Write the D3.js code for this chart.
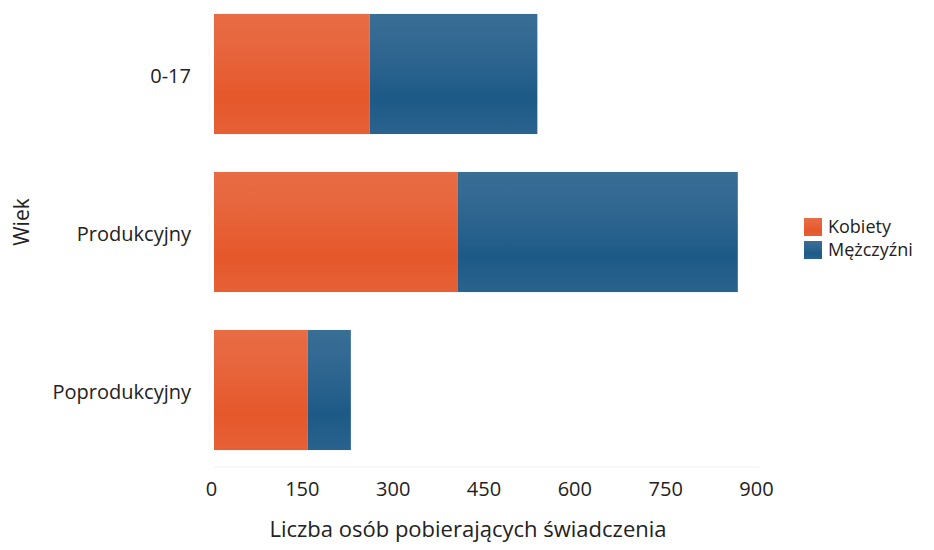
<!DOCTYPE html>
<html><head><meta charset="utf-8">
<script src="https://cdn.jsdelivr.net/npm/d3@7"></script>
<style>body{margin:0;background:#fff;font-family:"Open Sans","Noto Sans",sans-serif;}</style>
</head><body>
<svg id="c" width="934" height="550"></svg>
<script>
const categories = ["0-17", "Produkcyjny", "Poprodukcyjny"];
const seriesNames = ["Kobiety", "Mężczyźni"];
const kobiety = [257, 402, 155];
const mezczyzni = [277, 463, 71];
const ticks = [0, 150, 300, 450, 600, 750, 900];
const colors = ["#e5582b", "#1e5a87"];

const svg = d3.select("#c");
const x = d3.scaleLinear().domain([0, 900]).range([214, 759]);
const y = d3.scaleBand().domain(categories).range([-5, 469]).paddingInner(0.24).paddingOuter(0.12);

const defs = svg.append("defs");
colors.forEach((c, i) => {
  const g = defs.append("linearGradient").attr("id", "g" + i).attr("x1", 0).attr("y1", 0).attr("x2", 0).attr("y2", 1);
  g.append("stop").attr("offset", "0%").attr("stop-color", d3.interpolateRgb(c, "#ffffff")(0.12));
  g.append("stop").attr("offset", "30%").attr("stop-color", d3.interpolateRgb(c, "#ffffff")(0.08));
  g.append("stop").attr("offset", "70%").attr("stop-color", c);
  g.append("stop").attr("offset", "100%").attr("stop-color", d3.interpolateRgb(c, "#ffffff")(0.05));
});

const data = categories.map((c, i) => ({cat: c, Kobiety: kobiety[i], "Mężczyźni": mezczyzni[i]}));
const stack = d3.stack().keys(seriesNames)(data);

svg.append("g").selectAll("g").data(stack).join("g")
  .attr("fill", (d, i) => `url(#g${i})`)
  .selectAll("rect").data(d => d).join("rect")
  .attr("x", d => x(d[0]))
  .attr("width", d => x(d[1]) - x(d[0]))
  .attr("y", d => y(d.data.cat))
  .attr("height", y.bandwidth());

// faint baseline
svg.append("line").attr("x1", x(0)).attr("x2", x(900)).attr("y1", 467).attr("y2", 467)
  .attr("stroke", "#f0f0f0").attr("stroke-width", 1);

// x axis labels
const xa = svg.append("g").attr("transform", "translate(-3,484)")
  .call(d3.axisBottom(x).tickValues(ticks).tickSize(0).tickPadding(0));
xa.select(".domain").remove();
xa.selectAll("text").attr("font-family", "Open Sans").attr("font-size", 20).attr("fill", "#222").attr("dy", "0.6em");

// y axis labels
const ya = svg.append("g").attr("transform", "translate(191,3)")
  .call(d3.axisLeft(y).tickSize(0).tickPadding(0));
ya.select(".domain").remove();
ya.selectAll("text").attr("font-family", "Open Sans").attr("font-size", 20).attr("fill", "#222");

// titles
svg.append("text").attr("x", 468).attr("y", 537).attr("text-anchor", "middle")
  .attr("font-size", 22).attr("fill", "#222").text("Liczba osób pobierających świadczenia");
svg.append("text").attr("transform", "translate(29,222) rotate(-90)").attr("text-anchor", "middle")
  .attr("font-size", 21).attr("fill", "#222").text("Wiek");

// legend
const lg = svg.append("g").attr("transform", "translate(804,218)");
seriesNames.forEach((s, i) => {
  lg.append("rect").attr("x", 0).attr("y", i * 23).attr("width", 18).attr("height", 18).attr("fill", `url(#g${i})`);
  lg.append("text").attr("x", 24).attr("y", i * 23 + 15).attr("font-size", 18).attr("fill", "#222").text(s);
});
</script>
</body></html>
